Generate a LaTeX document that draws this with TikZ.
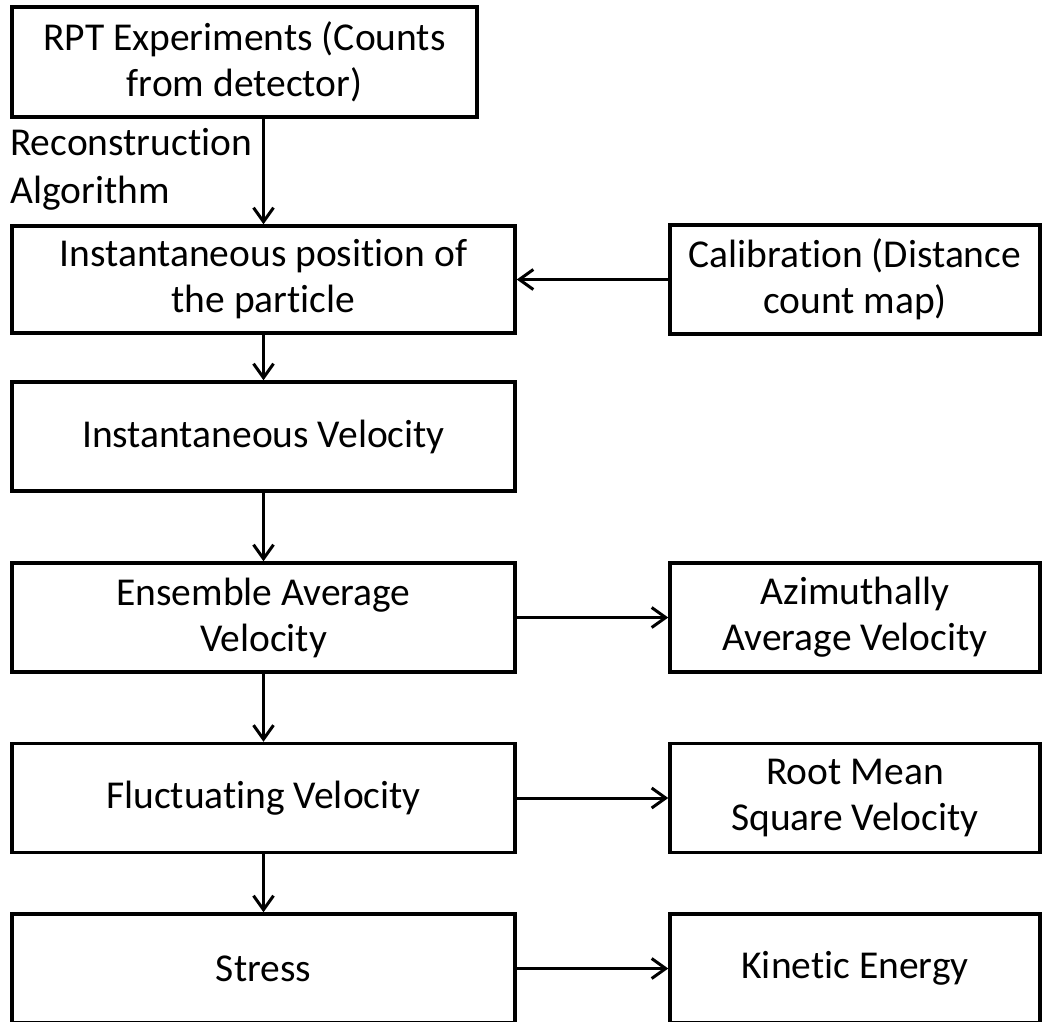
\documentclass[tikz,border=0pt]{standalone}
\usepackage{fontspec}
\setmainfont{Carlito}[Ligatures=NoCommon]
\usetikzlibrary{arrows.meta}
\begin{document}
\begin{tikzpicture}[x=1pt,y=1pt,
  box/.style={draw=black,line width=3.5pt,inner sep=0pt,align=center,
    minimum height=109pt,font=\fontsize{39.5}{46}\selectfont},
  leftbox/.style={box,minimum width=503pt},
  rightbox/.style={box,minimum width=370pt},
  flow/.style={line width=3pt,-{Straight Barb[length=14pt,width=20pt,line width=3pt]}}]
\clip (0,0) rectangle (1043,-1021);
\node[box,minimum width=465pt,minimum height=110pt] (rpt) at (244.5,-62) {RPT Experiments (Counts\\from detector)};
\node[leftbox,minimum height=107pt] (pos) at (263.5,-279.5) {Instantaneous position of\\the particle};
\node[rightbox] (cal) at (855,-279.5) {Calibration (Distance\\count map)};
\node[leftbox] (vel) at (263.5,-436.5) {Instantaneous Velocity};
\node[leftbox] (ens) at (263.5,-617.5) {Ensemble Average\\Velocity};
\node[rightbox] (azi) at (855,-617.5) {Azimuthally\\Average Velocity};
\node[leftbox] (flu) at (263.5,-798) {Fluctuating Velocity};
\node[rightbox] (rms) at (855,-798) {Root Mean\\Square Velocity};
\node[leftbox] (str) at (263.5,-968.5) {Stress};
\node[rightbox] (ke) at (855,-968.5) {Kinetic Energy};
\node[anchor=base west,align=left,inner sep=0pt,font=\fontsize{39.5}{48}\selectfont] (lbl) at (10,-203) {Reconstruction\\Algorithm};
\draw[flow] (pos.north |- rpt.south) -- (pos.north);
\draw[flow] (cal.west) -- (pos.east);
\draw[flow] (pos.south) -- (vel.north);
\draw[flow] (vel.south) -- (ens.north);
\draw[flow] (ens.south) -- (flu.north);
\draw[flow] (flu.south) -- (str.north);
\draw[flow] (ens.east) -- (azi.west);
\draw[flow] (flu.east) -- (rms.west);
\draw[flow] (str.east) -- (ke.west);
\end{tikzpicture}
\end{document}
